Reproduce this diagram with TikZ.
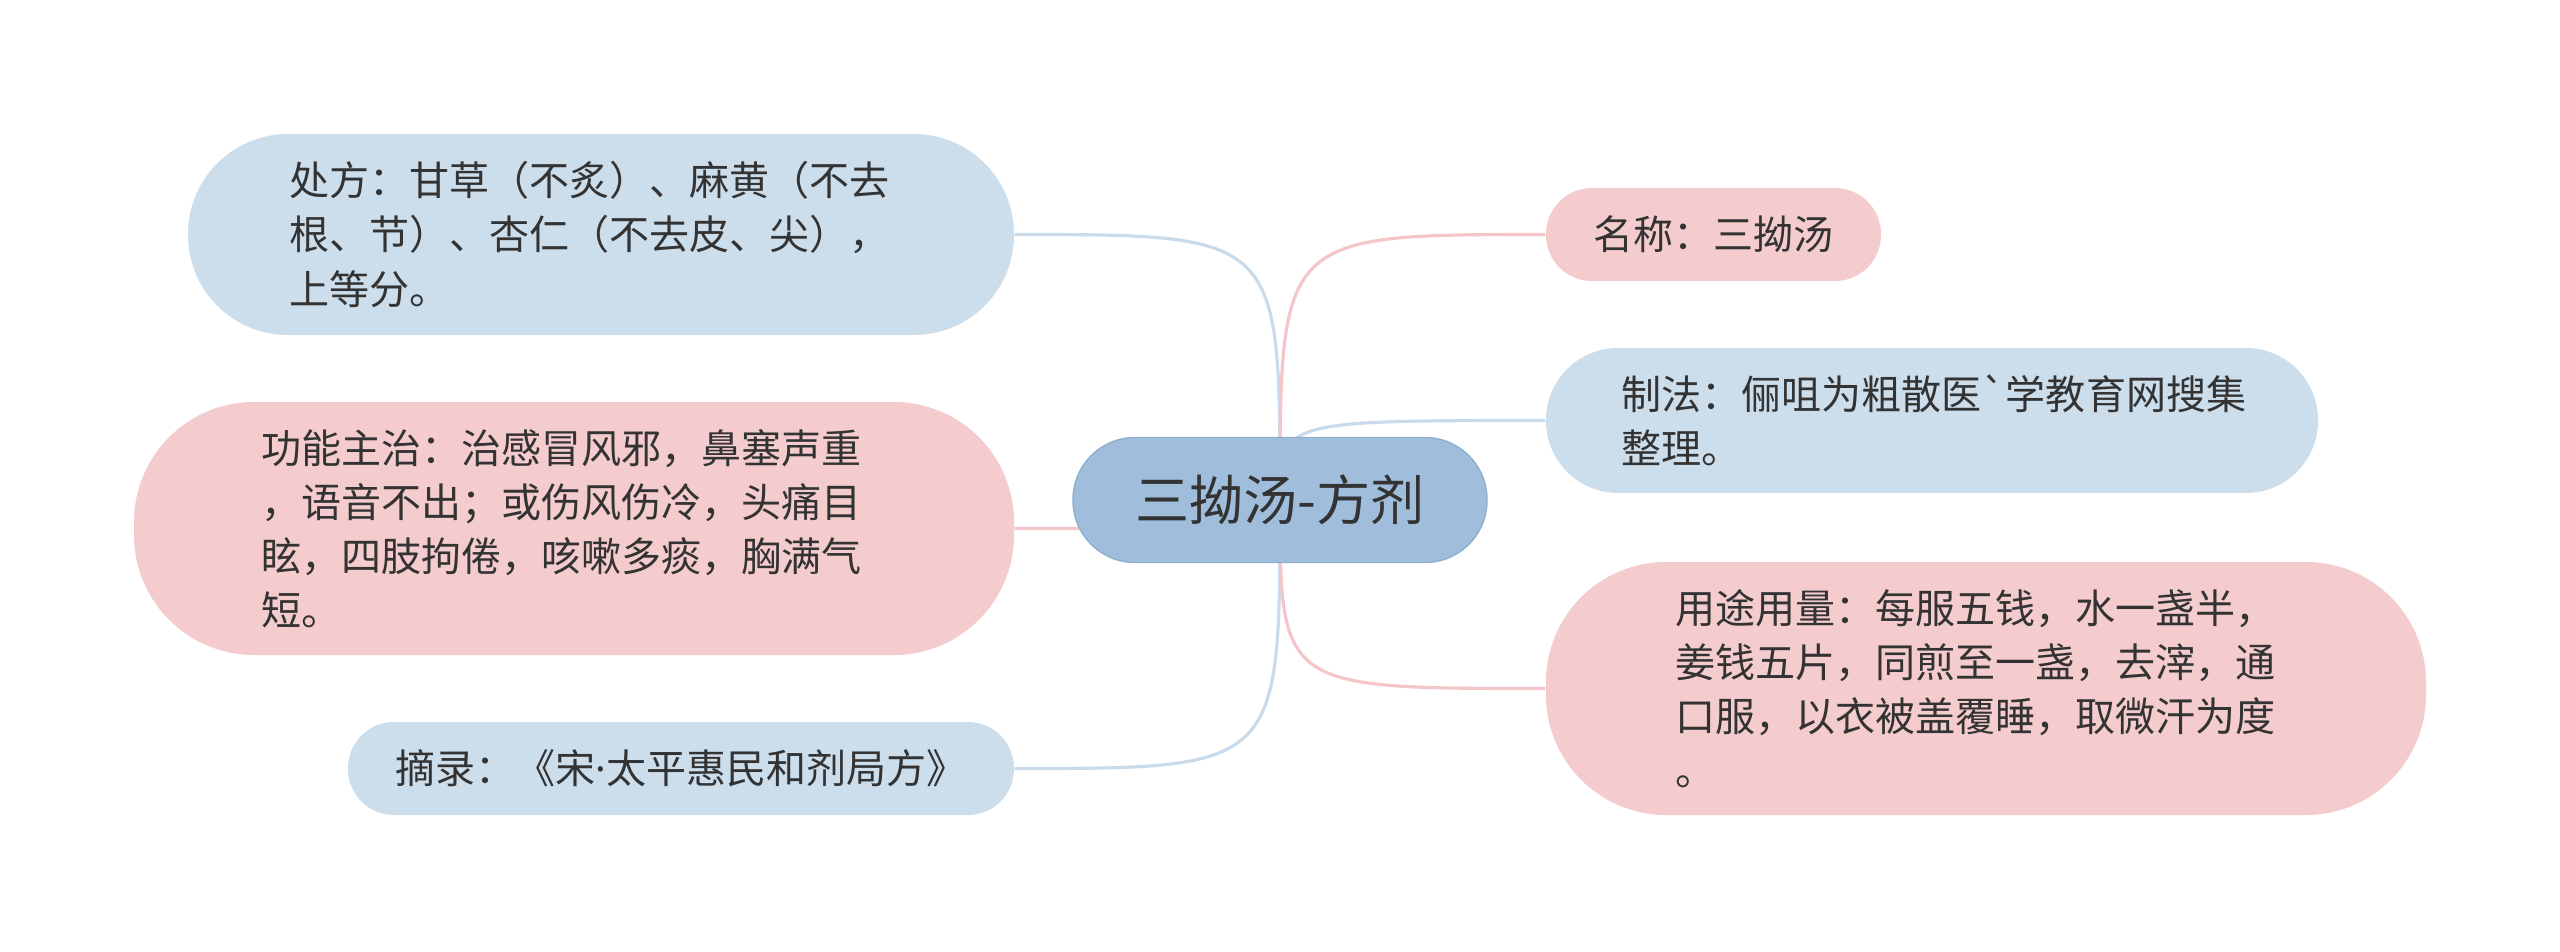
\documentclass[tikz,border=0pt]{standalone}
\usepackage{fontspec}
\setmainfont{Noto Sans CJK SC}[Ligatures=TeXOff]
\newfontfamily\latinfont{Noto Sans}
\usepackage{xcolor}
\usepackage{tikz}
\usetikzlibrary{backgrounds}
\definecolor{boxblue}{HTML}{CCDDEC}
\definecolor{boxpink}{HTML}{F5CCCE}
\definecolor{rootblue}{HTML}{A0BEDC}
\definecolor{rootedge}{HTML}{8EAFD0}
\definecolor{lineblue}{HTML}{C9DAEA}
\definecolor{linepink}{HTML}{F4C5C9}
\definecolor{txtgray}{HTML}{333333}
\newcommand{\leaffont}{\fontsize{11.4pt}{15.4pt}\selectfont}
\newcommand{\rootfont}{\fontsize{15.4pt}{18pt}\selectfont}

\begin{document}
\begin{tikzpicture}[x=0.1mm, y=-0.1mm,
    leaf/.style={text=txtgray, font=\leaffont, align=left, inner sep=0pt},
    blueleaf/.style={leaf, fill=boxblue},
    pinkleaf/.style={leaf, fill=boxpink},
    root/.style={fill=rootblue, draw=rootedge, line width=0.4pt, text=txtgray, font=\rootfont,
        minimum width=41.4mm, minimum height=12.5mm, rounded corners=6.2mm, inner sep=0pt},
    bline/.style={draw=lineblue, line width=0.9pt},
    pline/.style={draw=linepink, line width=0.9pt},
]
    \useasboundingbox (0,0) rectangle (2560,951);

    % Root
    \node[root] (root) at (1280,500) {三拗汤-方剂};

    % Left branches
    \node[blueleaf, minimum width=82.6mm, minimum height=20.1mm, text width=62.4mm, rounded corners=10mm] (chufang) at (601,234.5)
        {处方：甘草（不炙）、麻黄（不去\\根、节）、杏仁（不去皮、尖），\\上等分。};
    \node[pinkleaf, minimum width=88mm, minimum height=25.3mm, text width=62.6mm, rounded corners=12mm] (gongneng) at (574,528.5)
        {功能主治：治感冒风邪，鼻塞声重\\，语音不出；或伤风伤冷，头痛目\\眩，四肢拘倦，咳嗽多痰，胸满气\\短。};
    \node[blueleaf, align=center, minimum width=66.6mm, minimum height=9.3mm, rounded corners=4.6mm] (zhailu) at (681,768.5)
        {摘录：《宋{\latinfont ·}太平惠民和剂局方》};

    % Right branches
    \node[pinkleaf, align=center, minimum width=33.5mm, minimum height=9.3mm, rounded corners=4.6mm] (mingcheng) at (1713.5,234.5)
        {名称：三拗汤};
    \node[blueleaf, minimum width=77.2mm, minimum height=14.5mm, text width=62.2mm, rounded corners=7.2mm] (zhifa) at (1932,420.5)
        {制法：俪咀为粗散医`学教育网搜集\\整理。};
    \node[pinkleaf, minimum width=88mm, minimum height=25.3mm, text width=62.2mm, rounded corners=12mm] (yongtu) at (1986,688.5)
        {用途用量：每服五钱，水一盏半，\\姜钱五片，同煎至一盏，去滓，通\\口服，以衣被盖覆睡，取微汗为度\\。};

    % Connectors
    \begin{scope}[on background layer]
        \fill[white] (0,0) rectangle (2560,951);
        \draw[bline] (root.center) .. controls (root.center |- chufang.east) .. (chufang.east);
        \draw[pline] (root.center) .. controls (root.center |- gongneng.east) .. (gongneng.east);
        \draw[bline] (root.center) .. controls (root.center |- zhailu.east) .. (zhailu.east);
        \draw[pline] (root.center) .. controls (root.center |- mingcheng.west) .. (mingcheng.west);
        \draw[bline] (root.center) .. controls (root.center |- zhifa.west) .. (zhifa.west);
        \draw[pline] (root.center) .. controls (root.center |- yongtu.west) .. (yongtu.west);
    \end{scope}
\end{tikzpicture}
\end{document}
